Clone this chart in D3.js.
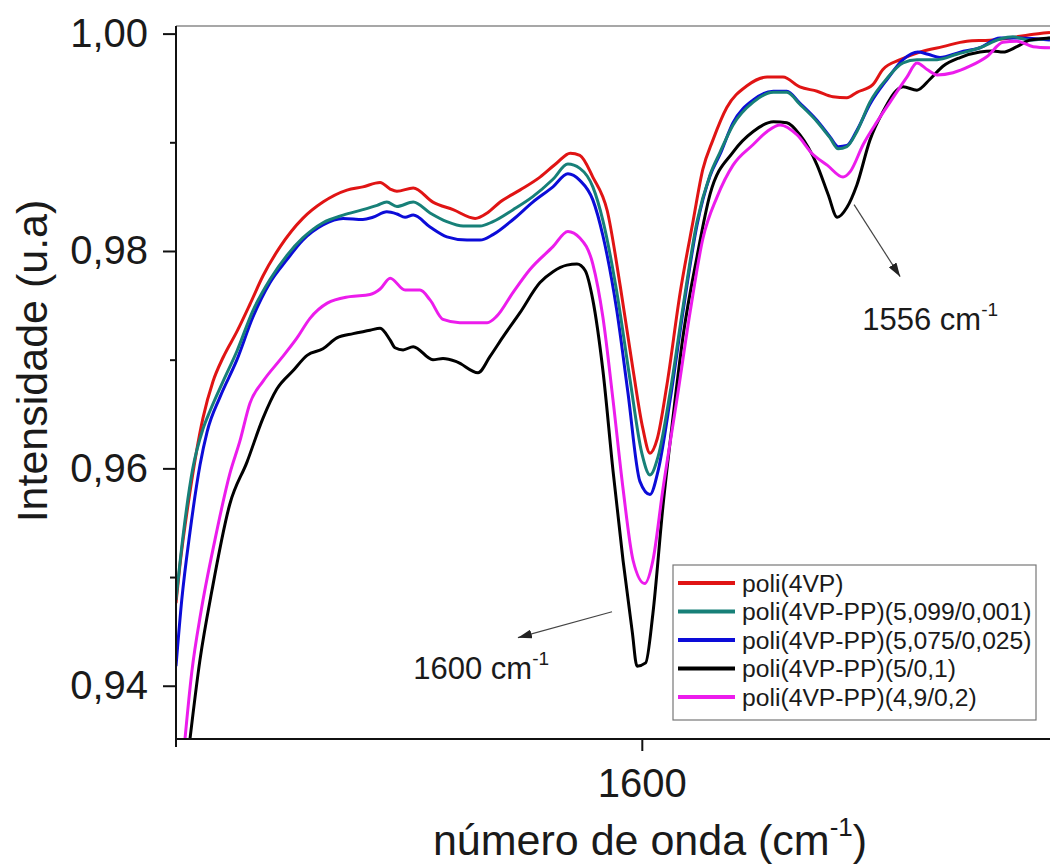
<!DOCTYPE html>
<html>
<head>
<meta charset="utf-8">
<script src="https://cdn.jsdelivr.net/npm/d3@7/dist/d3.min.js"></script>
<style>
  body { margin: 0; background: #fff; }
  svg text { font-family: "Liberation Sans", Arial, sans-serif; fill: #1a1a1a; }
</style>
</head>
<body>
<div id="chart"></div>
<script>
// FTIR spectra, 1697-1515 cm-1 window (wavenumber, intensity)
const poli4VP = [
  [1697.0,0.9476],[1696.2,0.9510],[1694.1,0.9578],[1691.4,0.9646],[1689.3,0.9680],[1687.2,0.9702],
  [1684.3,0.9726],[1681.6,0.9751],[1678.9,0.9777],[1675.3,0.9804],[1670.6,0.9830],[1666.4,0.9845],
  [1661.4,0.9856],[1658.1,0.9859],[1654.5,0.9863],[1652.4,0.9857],[1651.0,0.9855],[1647.6,0.9858],
  [1643.5,0.9845],[1639.3,0.9838],[1634.7,0.9830],[1632.2,0.9835],[1629.5,0.9845],[1625.4,0.9856],
  [1621.2,0.9868],[1617.7,0.9881],[1614.9,0.9890],[1612.9,0.9888],[1610.2,0.9868],[1607.2,0.9837],
  [1604.5,0.9768],[1601.8,0.9690],[1599.8,0.9637],[1598.3,0.9614],[1596.8,0.9627],[1594.8,0.9676],
  [1592.0,0.9762],[1589.3,0.9828],[1587.3,0.9875],[1585.2,0.9902],[1582.3,0.9932],[1578.1,0.9952],
  [1573.9,0.9960],[1570.6,0.9960],[1567.1,0.9951],[1563.5,0.9947],[1560.2,0.9942],[1557.3,0.9941],
  [1555.2,0.9946],[1551.9,0.9953],[1549.8,0.9967],[1546.2,0.9976],[1542.1,0.9983],[1537.3,0.9988],
  [1532.3,0.9993],[1527.5,0.9994],[1523.3,0.9996],[1519.2,0.9999],[1515.0,1.0001]
];

const pp5099 = [
  [1697.0,0.9479],[1695.5,0.9539],[1693.5,0.9600],[1691.4,0.9636],[1689.9,0.9653],[1687.2,0.9680],
  [1684.3,0.9708],[1681.0,0.9745],[1677.4,0.9774],[1673.9,0.9796],[1670.6,0.9812],[1666.4,0.9826],
  [1662.2,0.9833],[1658.1,0.9838],[1655.1,0.9842],[1653.1,0.9845],[1651.0,0.9841],[1647.6,0.9845],
  [1644.1,0.9835],[1640.6,0.9827],[1637.2,0.9823],[1633.7,0.9823],[1631.0,0.9827],[1626.8,0.9838],
  [1622.7,0.9850],[1618.5,0.9866],[1615.4,0.9880],[1612.9,0.9876],[1610.2,0.9859],[1608.1,0.9828],
  [1605.2,0.9762],[1602.5,0.9683],[1600.0,0.9614],[1598.3,0.9594],[1596.6,0.9611],[1594.1,0.9670],
  [1591.4,0.9749],[1588.5,0.9827],[1585.8,0.9870],[1583.7,0.9891],[1581.0,0.9916],[1576.8,0.9937],
  [1572.6,0.9946],[1569.8,0.9946],[1567.1,0.9935],[1563.5,0.9919],[1560.8,0.9904],[1559.1,0.9894],
  [1557.3,0.9896],[1555.2,0.9910],[1552.5,0.9937],[1548.9,0.9959],[1545.6,0.9973],[1542.7,0.9976],
  [1538.5,0.9976],[1534.4,0.9981],[1529.6,0.9987],[1525.4,0.9995],[1522.7,0.9997],[1519.2,0.9994],
  [1515.0,0.9996]
];

const pp5075 = [
  [1697.0,0.9418],[1695.8,0.9479],[1694.1,0.9541],[1692.0,0.9603],[1690.5,0.9634],[1687.8,0.9666],
  [1684.3,0.9700],[1681.0,0.9739],[1677.4,0.9771],[1673.9,0.9792],[1670.6,0.9810],[1666.4,0.9824],
  [1662.2,0.9830],[1658.1,0.9829],[1656.0,0.9831],[1653.1,0.9836],[1651.0,0.9834],[1649.3,0.9831],
  [1647.6,0.9833],[1644.1,0.9822],[1640.6,0.9813],[1636.4,0.9810],[1633.7,0.9810],[1631.0,0.9815],
  [1626.8,0.9829],[1622.7,0.9845],[1618.5,0.9859],[1615.4,0.9871],[1612.9,0.9865],[1610.2,0.9847],
  [1608.1,0.9814],[1605.2,0.9745],[1602.9,0.9670],[1600.4,0.9588],[1598.3,0.9576],[1596.6,0.9598],
  [1594.1,0.9663],[1591.4,0.9745],[1588.5,0.9824],[1585.8,0.9869],[1583.7,0.9889],[1581.0,0.9918],
  [1576.8,0.9939],[1572.6,0.9947],[1569.8,0.9947],[1567.1,0.9936],[1563.5,0.9920],[1560.8,0.9905],
  [1559.1,0.9896],[1557.3,0.9897],[1555.2,0.9911],[1552.5,0.9935],[1548.9,0.9958],[1545.6,0.9976],
  [1542.5,0.9983],[1540.4,0.9981],[1537.9,0.9978],[1533.7,0.9983],[1529.6,0.9987],[1525.4,0.9996],
  [1521.2,0.9996],[1515.0,0.9994]
];

const pp501 = [
  [1694.3,0.9343],[1692.0,0.9424],[1689.5,0.9488],[1685.8,0.9567],[1682.2,0.9606],[1678.9,0.9646],
  [1676.0,0.9673],[1672.6,0.9690],[1669.7,0.9704],[1666.4,0.9710],[1663.5,0.9720],[1660.1,0.9724],
  [1656.6,0.9727],[1654.5,0.9729],[1652.4,0.9718],[1651.4,0.9711],[1649.7,0.9709],[1647.6,0.9712],
  [1643.5,0.9700],[1641.4,0.9701],[1638.5,0.9698],[1634.1,0.9688],[1631.6,0.9703],[1628.9,0.9721],
  [1625.4,0.9743],[1621.2,0.9771],[1618.5,0.9781],[1615.6,0.9787],[1613.5,0.9788],[1611.8,0.9782],
  [1610.2,0.9755],[1608.1,0.9690],[1606.0,0.9598],[1603.9,0.9515],[1602.0,0.9450],[1601.0,0.9418],
  [1599.2,0.9421],[1597.7,0.9466],[1595.6,0.9565],[1593.5,0.9647],[1591.4,0.9722],[1588.5,0.9795],
  [1585.8,0.9852],[1581.0,0.9891],[1576.8,0.9910],[1572.6,0.9919],[1569.8,0.9918],[1567.1,0.9907],
  [1563.5,0.9879],[1561.2,0.9852],[1559.3,0.9831],[1557.3,0.9840],[1555.2,0.9861],[1552.5,0.9902],
  [1549.8,0.9928],[1546.9,0.9948],[1545.6,0.9951],[1542.7,0.9948],[1540.0,0.9958],[1537.3,0.9970],
  [1533.7,0.9978],[1529.6,0.9983],[1526.9,0.9984],[1524.8,0.9983],[1521.9,0.9988],[1519.2,0.9994],
  [1515.0,0.9996]
];

const pp4902 = [
  [1695.3,0.9343],[1693.7,0.9413],[1691.8,0.9468],[1688.9,0.9534],[1685.8,0.9595],[1683.7,0.9625],
  [1681.6,0.9660],[1678.9,0.9680],[1675.3,0.9700],[1671.8,0.9720],[1669.1,0.9738],[1665.5,0.9752],
  [1660.8,0.9758],[1656.6,0.9760],[1654.5,0.9765],[1652.4,0.9775],[1649.3,0.9764],[1646.2,0.9764],
  [1644.1,0.9755],[1641.4,0.9737],[1637.9,0.9734],[1632.2,0.9734],[1630.2,0.9740],[1626.8,0.9762],
  [1623.3,0.9783],[1618.5,0.9804],[1615.4,0.9818],[1612.9,0.9812],[1610.2,0.9788],[1608.1,0.9739],
  [1606.0,0.9663],[1603.9,0.9581],[1601.8,0.9515],[1599.4,0.9494],[1597.7,0.9515],[1595.6,0.9581],
  [1592.7,0.9663],[1589.9,0.9745],[1587.3,0.9811],[1584.3,0.9850],[1581.0,0.9879],[1576.8,0.9898],
  [1573.9,0.9910],[1571.2,0.9916],[1567.7,0.9907],[1564.4,0.9889],[1561.4,0.9879],[1558.1,0.9868],
  [1556.6,0.9873],[1553.9,0.9898],[1551.0,0.9919],[1548.3,0.9937],[1544.8,0.9960],[1542.7,0.9973],
  [1540.6,0.9967],[1538.5,0.9962],[1535.2,0.9964],[1531.7,0.9970],[1528.1,0.9979],[1524.8,0.9992],
  [1521.9,0.9993],[1518.5,0.9988],[1515.0,0.9987]
];

const seriesNames = [
  "poli(4VP)",
  "poli(4VP-PP)(5,099/0,001)",
  "poli(4VP-PP)(5,075/0,025)",
  "poli(4VP-PP)(5/0,1)",
  "poli(4VP-PP)(4,9/0,2)"
];
const seriesData = [poli4VP, pp5099, pp5075, pp501, pp4902];
const seriesColors = ["#e01414", "#178078", "#0c0cd8", "#000000", "#ec1cec"];
const drawOrder = [0, 2, 1, 3, 4];

const xDomain = [1697, 1515];
const yDomain = [0.9351, 1.0007];
const xTicks = [1600];
const yTicks = [0.94, 0.96, 0.98, 1.00];
const yMinorTicks = [0.95, 0.97, 0.99];

// Layout
const width = 1050, height = 867;
const margin = { top: 26, right: 0, bottom: 128, left: 176 };
const plotW = width - margin.left - margin.right;
const plotH = height - margin.top - margin.bottom;

const svg = d3.select("#chart").append("svg")
  .attr("width", width)
  .attr("height", height);

svg.append("defs").append("clipPath")
  .attr("id", "plot-clip")
  .append("rect")
  .attr("width", plotW)
  .attr("height", plotH);

const marker = svg.select("defs").append("marker")
  .attr("id", "arrow")
  .attr("viewBox", "0 0 14 9")
  .attr("refX", 14).attr("refY", 4.5)
  .attr("markerWidth", 14).attr("markerHeight", 9)
  .attr("markerUnits", "userSpaceOnUse")
  .attr("orient", "auto");
marker.append("path").attr("d", "M0,0 L14,4.5 L0,9 Z").attr("fill", "#222");

const g = svg.append("g").attr("transform", `translate(${margin.left},${margin.top})`);

const x = d3.scaleLinear().domain(xDomain).range([0, plotW]);
const y = d3.scaleLinear().domain(yDomain).range([plotH, 0]);

// top frame line (grey)
g.append("line")
  .attr("x1", 0).attr("x2", plotW)
  .attr("y1", 0).attr("y2", 0)
  .attr("stroke", "#8a8a8a").attr("stroke-width", 1.5);

// Spectra
const line = d3.line()
  .x(d => x(d[0]))
  .y(d => y(d[1]))
  .curve(d3.curveMonotoneX);

g.append("g").attr("clip-path", "url(#plot-clip)")
  .selectAll("path")
  .data(drawOrder)
  .join("path")
  .attr("d", i => line(seriesData[i]))
  .attr("fill", "none")
  .attr("stroke", i => seriesColors[i])
  .attr("stroke-width", 3)
  .attr("stroke-linejoin", "round");

// Axes
const fmt = d => d.toFixed(2).replace(".", ",");

const yAxis = g.append("g")
  .call(d3.axisLeft(y).tickValues(yTicks).tickFormat(fmt).tickSize(13).tickSizeOuter(0).tickPadding(15));
yAxis.append("g")
  .call(d3.axisLeft(y).tickValues(yMinorTicks).tickFormat("").tickSize(6).tickSizeOuter(0))
  .select(".domain").remove();

const xAxis = g.append("g")
  .attr("transform", `translate(0,${plotH})`)
  .call(d3.axisBottom(x).tickValues(xTicks).tickFormat(d3.format("d")).tickSize(12).tickSizeOuter(0).tickPadding(18));

g.selectAll(".domain").remove();
g.selectAll(".tick line").attr("stroke", "#111").attr("stroke-width", 2);
g.selectAll(".tick text").attr("font-size", 40).attr("fill", "#1a1a1a")
  .attr("font-family", "'Liberation Sans', Arial, sans-serif");

// axis lines drawn by hand so the left one pokes below the bottom one
g.append("line").attr("x1", 0).attr("x2", 0).attr("y1", 0).attr("y2", plotH + 8)
  .attr("stroke", "#111").attr("stroke-width", 2);
g.append("line").attr("x1", 0).attr("x2", plotW).attr("y1", plotH).attr("y2", plotH)
  .attr("stroke", "#111").attr("stroke-width", 2);

// Axis titles
svg.append("text")
  .attr("transform", "translate(47,361) rotate(-90)")
  .attr("text-anchor", "middle")
  .attr("font-size", 43)
  .text("Intensidade (u.a)");

const xt = svg.append("text")
  .attr("x", 650).attr("y", 855)
  .attr("text-anchor", "middle")
  .attr("font-size", 43);
xt.append("tspan").text("número de onda (cm");
xt.append("tspan").attr("dy", -19).attr("font-size", 26).text("-1");
xt.append("tspan").attr("dy", 19).text(")");

// Annotations (placed in data units)
function annotate(from, to, label, at) {
  g.append("line")
    .attr("x1", x(from[0])).attr("y1", y(from[1]))
    .attr("x2", x(to[0])).attr("y2", y(to[1]))
    .attr("stroke", "#444").attr("stroke-width", 1.2)
    .attr("marker-end", "url(#arrow)");
  const t = g.append("text")
    .attr("x", x(at[0])).attr("y", y(at[1]))
    .attr("font-size", 31);
  t.append("tspan").text(label + " cm");
  t.append("tspan").attr("dy", -14).attr("font-size", 19).text("-1");
}
annotate([1555.8, 0.98426], [1546.2, 0.97764], "1556", [1554.1, 0.97276]);
annotate([1606.2, 0.94681], [1625.8, 0.94442], "1600", [1647.6, 0.94065]);

// Legend
const legend = svg.append("g").attr("transform", "translate(673,565)");
legend.append("rect")
  .attr("width", 363).attr("height", 155)
  .attr("fill", "#fff").attr("stroke", "#777").attr("stroke-width", 1.2);

const rows = legend.selectAll(".row")
  .data(seriesNames)
  .join("g")
  .attr("class", "row")
  .attr("transform", (d, i) => `translate(0,${18 + i * 28.5})`);
rows.append("line")
  .attr("x1", 5).attr("x2", 62)
  .attr("stroke", (d, i) => seriesColors[i])
  .attr("stroke-width", 4);
rows.append("text")
  .attr("x", 69).attr("dy", "0.35em")
  .attr("font-size", 24.7)
  .text(d => d);
</script>
</body>
</html>
